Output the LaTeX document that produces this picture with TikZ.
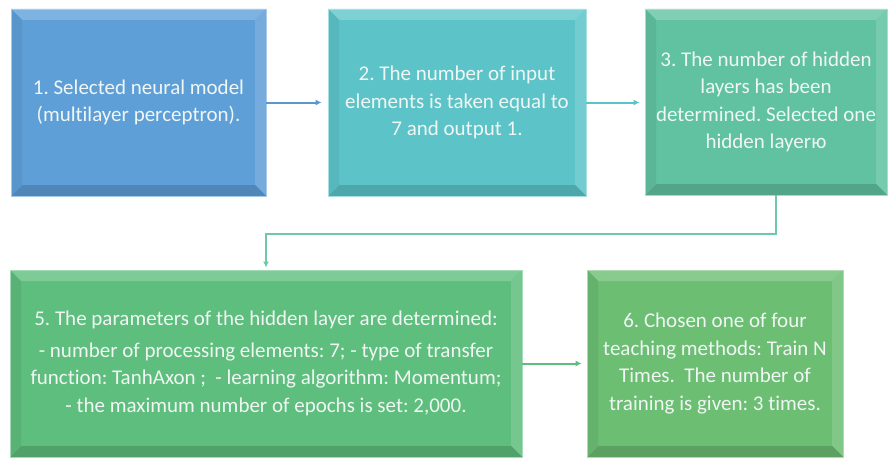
\documentclass[tikz,border=0pt]{standalone}
\usepackage{fontspec}
\setmainfont[Ligatures=NoCommon]{Carlito}
\usetikzlibrary{arrows.meta}
\frenchspacing
\definecolor{cA}{HTML}{5E9FD8}
\definecolor{cB}{HTML}{5CC4C8}
\definecolor{cC}{HTML}{60C2A0}
\definecolor{cE}{HTML}{5EBE7D}
\definecolor{cF}{HTML}{6CBE73}
\definecolor{txt}{HTML}{F0F6F3}
\tikzset{
  bev/.style={rectangle, inner sep=0pt, fill=#1, draw=#1!55!white, line width=0.8pt,
    text=txt, align=center, font=\fontsize{21}{27.5}\selectfont,
    path picture={
      \fill[#1!80!white] (path picture bounding box.north west) -- (path picture bounding box.north east)
        -- ([shift={(-11pt,-11pt)}]path picture bounding box.north east) -- ([shift={(11pt,-11pt)}]path picture bounding box.north west) -- cycle;
      \fill[#1!86!white] (path picture bounding box.north east) -- (path picture bounding box.south east)
        -- ([shift={(-11pt,11pt)}]path picture bounding box.south east) -- ([shift={(-11pt,-11pt)}]path picture bounding box.north east) -- cycle;
      \fill[#1!85!black] (path picture bounding box.south east) -- (path picture bounding box.south west)
        -- ([shift={(11pt,11pt)}]path picture bounding box.south west) -- ([shift={(-11pt,11pt)}]path picture bounding box.south east) -- cycle;
      \fill[#1!94!black] (path picture bounding box.south west) -- (path picture bounding box.north west)
        -- ([shift={(11pt,-11pt)}]path picture bounding box.north west) -- ([shift={(11pt,11pt)}]path picture bounding box.south west) -- cycle;
    }},
  conn/.style={line width=2pt, -{Latex[length=6pt,width=6pt]}}
}
\begin{document}
\begin{tikzpicture}[x=1pt,y=1pt]
\useasboundingbox[fill=white] (0,0) rectangle (890,459);
\node[bev=cA, minimum width=255pt, minimum height=187pt] (b1) at (138.5,356.5)
  {1. Selected neural model\\(multilayer perceptron).};
\node[bev=cB, minimum width=258pt, minimum height=187pt] (b2) at (457,356.5)
  {2. The number of input\\elements is taken equal to\\7 and output 1.};
\node[bev=cC, minimum width=242pt, minimum height=186pt] (b3) at (766,357)
  {3. The number of hidden\\layers has been\\determined. Selected one\\hidden layerю};
\node[bev=cE, minimum width=512pt, minimum height=187pt] (b5) at (266,95.5)
  {5. The parameters of the hidden layer are determined:\\[4pt]
   - number of processing elements: 7; - type of transfer\\
   function: TanhAxon ;\ \ - learning algorithm: Momentum;\\
   - the maximum number of epochs is set: 2,000.};
\node[bev=cF, minimum width=256pt, minimum height=187pt] (b6) at (715,95.5)
  {6. Chosen one of four\\teaching methods: Train N\\Times.\ \ The number of\\training is given: 3 times.};
\draw[conn, draw=cA!95!black, shorten >=6pt] (b1.east) -- (b2.west);
\draw[conn, draw=cB, shorten >=5pt] (b2.east) -- (b3.west |- b2.east);
\draw[conn, draw=cC!90!white] ([xshift=10pt]b3.south) -- ++(0,-39) -| ([yshift=2pt]b5.north);
\draw[conn, draw=cE, shorten >=5pt] (b5.east) -- (b6.west);
\end{tikzpicture}
\end{document}
